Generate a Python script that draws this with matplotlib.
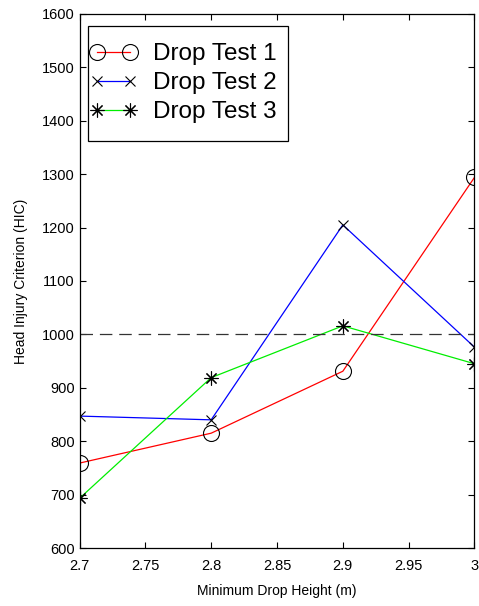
import matplotlib
matplotlib.use("Agg")
import matplotlib.pyplot as plt
from matplotlib.patches import Rectangle

plt.rcParams['font.family'] = ['Liberation Sans', 'DejaVu Sans']

# Dane
heights = [2.7, 2.8, 2.9, 3.0]
test1 = [759, 815, 931, 1294]
test2 = [847, 840, 1205, 976]
test3 = [693, 919, 1016, 945]
threshold = 1000

fig = plt.figure(figsize=(4.79, 6.06), dpi=100)
ax = fig.add_axes([0.166, 0.0957, 0.8246, 0.8813])

ax.plot(heights, test1, color='red', lw=0.9, marker='o', ms=11.5,
        mfc='none', mec='black', mew=0.8, label='Drop Test 1')
ax.plot(heights, test2, color='blue', lw=0.9, marker='x', ms=7.5,
        mec='black', mew=0.8, label='Drop Test 2')
ax.plot(heights, test3, color='#00ee00', lw=0.9, marker=(8, 2, 0), ms=10,
        mec='black', mew=0.8, label='Drop Test 3')
ax.axhline(threshold, color='#333333', lw=0.9, ls=(0, (10, 5.5)))

ax.set_xlim(2.7, 3.0)
ax.set_ylim(600, 1600)
ax.set_xticks([2.7, 2.75, 2.8, 2.85, 2.9, 2.95, 3.0])
ax.set_xticklabels(['2.7', '2.75', '2.8', '2.85', '2.9', '2.95', '3'])
ax.set_yticks(range(600, 1601, 100))
ax.tick_params(direction='in', top=True, right=True, labelsize=10.5,
               length=4, width=0.8)
ax.tick_params(axis='x', pad=8)
for s in ax.spines.values():
    s.set_linewidth(0.9)

ax.set_xlabel('Minimum Drop Height (m)', fontsize=10, labelpad=8)
ax.set_ylabel('Head Injury Criterion (HIC)', fontsize=10, labelpad=10)

leg = ax.legend(loc='upper left', bbox_to_anchor=(0.022, 0.948),
                fontsize=17.5, numpoints=2, frameon=False, borderaxespad=0,
                handlelength=1.96, handletextpad=0.65, borderpad=0.07,
                labelspacing=0.28)
leg.set_zorder(6)

# ramka legendy z wiekszym odstepem w pionie (jak w MATLAB)
fig.canvas.draw()
bb = leg.get_window_extent()
vpad = 16
rpad = 9
inv = ax.transAxes.inverted()
(x0, y0), (x1, y1) = inv.transform([(bb.x0, bb.y0 - vpad),
                                    (bb.x1 + rpad, bb.y1 + vpad)])
frame = Rectangle((x0, y0), x1 - x0, y1 - y0, transform=ax.transAxes,
                  facecolor='white', edgecolor='black', lw=0.9,
                  zorder=5, clip_on=False)
ax.add_patch(frame)

fig.savefig('out.png', dpi=100)
